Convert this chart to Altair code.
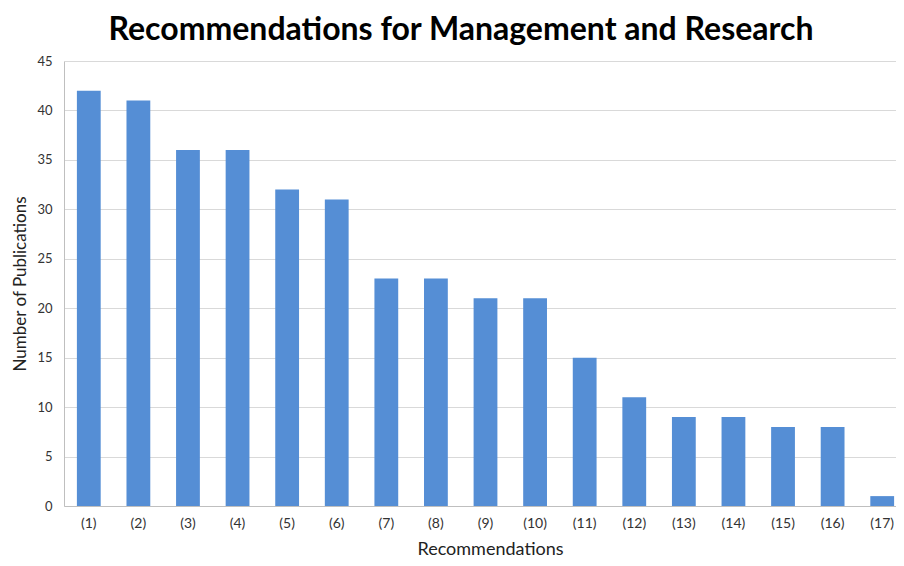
import altair as alt
import pandas as pd

categories = ["(1)", "(2)", "(3)", "(4)", "(5)", "(6)", "(7)", "(8)", "(9)",
              "(10)", "(11)", "(12)", "(13)", "(14)", "(15)", "(16)", "(17)"]
publications = [42, 41, 36, 36, 32, 31, 23, 23, 21, 21, 15, 11, 9, 9, 8, 8, 1]

df = pd.DataFrame({"Recommendation": categories, "Publications": publications})

FONT = "Lato"

chart = alt.Chart(df).mark_bar(color="#558ED5").encode(
    x=alt.X("Recommendation:N", sort=categories,
            scale=alt.Scale(range=[0, 843], paddingInner=0.52, paddingOuter=0.26),
            axis=alt.Axis(title="Recommendations", labelAngle=0, ticks=False,
                          labelFontSize=14, labelColor="#333333", labelFont=FONT,
                          labelPadding=10, titleFontSize=18, titleFont=FONT,
                          titleFontWeight="normal", titleColor="#222222",
                          titlePadding=10, domainColor="#BFBFBF", titleX=426)),
    y=alt.Y("Publications:Q",
            scale=alt.Scale(domain=[0, 45]),
            axis=alt.Axis(title="Number of Publications", values=list(range(0, 50, 5)),
                          ticks=False, labelFontSize=13, labelColor="#333333",
                          labelFont=FONT, labelPadding=12, titleFontSize=17,
                          titleFont=FONT, titleFontWeight="normal",
                          titleColor="#222222", titlePadding=7,
                          gridColor="#D9D9D9", domainColor="#BFBFBF")),
).properties(
    width=832,
    height=445,
    autosize=alt.AutoSizeParams(type="none"),
    padding={"left": 56, "top": 53, "right": 0, "bottom": 52},
    title=alt.TitleParams("Recommendations for Management and Research",
                          font=FONT, fontSize=32, fontWeight="bold",
                          color="#000000", anchor="middle", dx=-19, offset=8),
).configure_view(stroke=None)

chart.save("out.html", embed_options={"renderer": "svg", "actions": False})
